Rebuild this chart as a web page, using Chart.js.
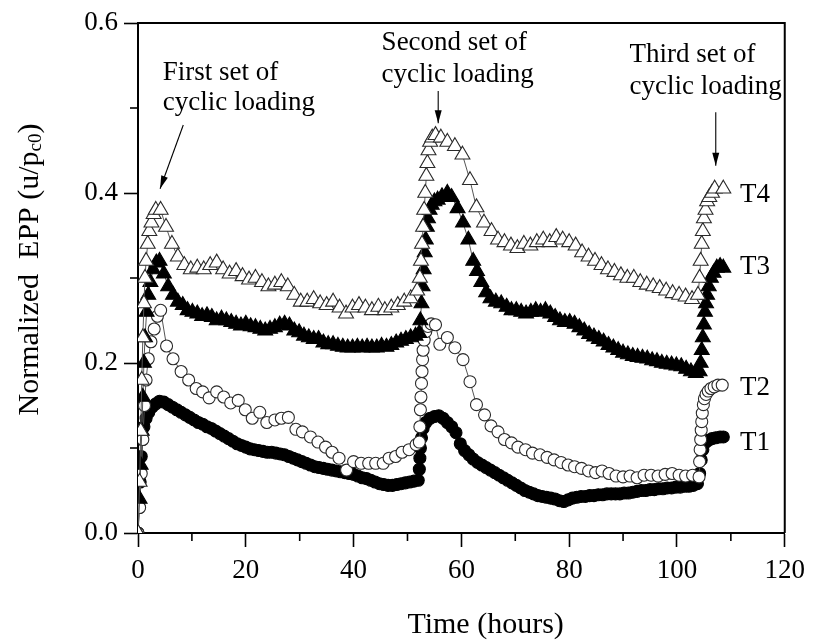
<!DOCTYPE html>
<html>
<head>
<meta charset="utf-8">
<script src="https://cdn.jsdelivr.net/npm/chart.js@4.4.1/dist/chart.umd.min.js"></script>
<style>
  html, body { margin: 0; padding: 0; background: #fff; }
  #wrap { width: 813px; height: 644px; }
</style>
</head>
<body>
<div id="wrap"><canvas id="epp-chart"></canvas></div>
<script>
// EPP data (time in hours, EPP normalised by p'c0)
const t4Time = [
  0.0, 0.3, 0.5, 0.7, 0.9, 1.1, 1.3, 1.5, 1.8, 2.1,
  2.5, 2.9, 3.3, 4.2, 5.2, 6.3, 7.4, 8.6, 9.8, 11.0,
  12.2, 13.4, 14.6, 15.8, 17.0, 18.2, 19.4, 20.6, 21.8, 23.0,
  24.2, 25.4, 26.6, 27.8, 29.0, 30.2, 31.4, 32.6, 33.8, 35.0,
  36.2, 37.4, 38.6, 39.8, 41.0, 42.2, 43.4, 44.6, 45.8, 47.0,
  48.2, 49.4, 50.6, 51.8, 52.3, 52.5, 52.7, 52.9, 53.1, 53.3,
  53.5, 53.7, 53.9, 54.2, 54.6, 55.2, 56.2, 57.4, 58.8, 60.2,
  61.6, 62.8, 64.2, 65.6, 66.8, 68.0, 69.2, 70.4, 71.6, 72.8,
  74.0, 75.2, 76.4, 77.6, 78.8, 80.0, 81.2, 82.4, 83.6, 84.8,
  86.0, 87.2, 88.4, 89.6, 90.8, 92.0, 93.2, 94.4, 95.6, 96.8,
  98.0, 99.2, 100.4, 101.6, 102.8, 103.9, 104.2, 104.4, 104.6, 104.8,
  105.0, 105.3, 105.6, 106.0, 106.5, 107.0, 108.6
];
const t4Epp = [
  0.00, 0.06, 0.12, 0.18, 0.23, 0.27, 0.30, 0.32, 0.34, 0.355,
  0.365, 0.375, 0.38, 0.38, 0.36, 0.34, 0.325, 0.315, 0.31, 0.312,
  0.31, 0.315, 0.318, 0.31, 0.305, 0.308, 0.302, 0.298, 0.30, 0.295,
  0.29, 0.292, 0.295, 0.29, 0.28, 0.272, 0.272, 0.275, 0.27, 0.268,
  0.272, 0.265, 0.258, 0.265, 0.268, 0.265, 0.262, 0.266, 0.262, 0.265,
  0.268, 0.272, 0.276, 0.285, 0.30, 0.32, 0.34, 0.36, 0.38, 0.40,
  0.42, 0.435, 0.45, 0.46, 0.465, 0.468, 0.465, 0.46, 0.455, 0.445,
  0.415, 0.383, 0.365, 0.355, 0.345, 0.342, 0.338, 0.335, 0.34, 0.338,
  0.342, 0.345, 0.342, 0.348, 0.345, 0.342, 0.338, 0.33, 0.325, 0.32,
  0.315, 0.31, 0.307, 0.303, 0.30, 0.30, 0.295, 0.292, 0.29, 0.288,
  0.285, 0.282, 0.28, 0.278, 0.275, 0.28, 0.30, 0.32, 0.34, 0.355,
  0.37, 0.38, 0.39, 0.395, 0.40, 0.405, 0.405
];

const t3Time = [
  0.0, 0.3, 0.5, 0.7, 0.9, 1.1, 1.3, 1.6, 1.9, 2.3,
  2.8, 3.4, 4.0, 4.8, 5.6, 6.5, 7.4, 8.3, 9.2, 10.1,
  11.0, 11.9, 12.8, 13.7, 14.6, 15.5, 16.4, 17.3, 18.2, 19.1,
  20.0, 20.9, 21.8, 22.7, 23.6, 24.5, 25.4, 26.3, 27.2, 28.1,
  29.0, 29.9, 30.8, 31.7, 32.6, 33.5, 34.4, 35.3, 36.2, 37.1,
  38.0, 38.9, 39.8, 40.7, 41.6, 42.5, 43.4, 44.3, 45.2, 46.1,
  47.0, 47.9, 48.8, 49.7, 50.6, 51.5, 52.2, 52.4, 52.6, 52.8,
  53.0, 53.2, 53.4, 53.6, 53.8, 54.1, 54.5, 55.0, 55.6, 56.4,
  57.4, 58.2, 59.3, 60.3, 61.3, 62.2, 62.9, 63.7, 64.6, 65.4,
  66.4, 67.4, 68.4, 69.3, 70.2, 71.1, 72.0, 72.9, 73.8, 74.7,
  75.6, 76.5, 77.4, 78.3, 79.2, 80.1, 81.0, 81.9, 82.8, 83.7,
  84.6, 85.5, 86.4, 87.3, 88.2, 89.1, 90.0, 90.9, 91.8, 92.7,
  93.6, 94.5, 95.4, 96.3, 97.2, 98.1, 99.0, 99.9, 100.8, 101.7,
  102.6, 103.5, 104.2, 104.4, 104.6, 104.8, 105.0, 105.2, 105.4, 105.6,
  105.9, 106.3, 106.8, 107.4, 108.0, 108.6
];
const t3Epp = [
  0.00, 0.04, 0.08, 0.12, 0.16, 0.20, 0.23, 0.26, 0.28, 0.295,
  0.31, 0.318, 0.32, 0.305, 0.29, 0.28, 0.272, 0.268, 0.262, 0.26,
  0.258, 0.255, 0.256, 0.254, 0.25, 0.252, 0.25, 0.248, 0.246, 0.244,
  0.246, 0.243, 0.242, 0.24, 0.238, 0.24, 0.242, 0.245, 0.246, 0.244,
  0.238, 0.236, 0.232, 0.23, 0.228, 0.228, 0.224, 0.222, 0.222, 0.22,
  0.219, 0.218, 0.218, 0.219, 0.218, 0.219, 0.218, 0.218, 0.22, 0.219,
  0.221, 0.224, 0.226, 0.228, 0.23, 0.232, 0.235, 0.25, 0.27, 0.29,
  0.31, 0.33, 0.345, 0.36, 0.37, 0.38, 0.386, 0.39, 0.392, 0.396,
  0.40, 0.395, 0.382, 0.365, 0.345, 0.32, 0.308, 0.295, 0.283, 0.276,
  0.272, 0.27, 0.266, 0.262, 0.262, 0.26, 0.258, 0.26, 0.262, 0.26,
  0.262, 0.258, 0.254, 0.25, 0.248, 0.248, 0.246, 0.242, 0.238, 0.234,
  0.231, 0.228, 0.225, 0.221, 0.218, 0.215, 0.212, 0.21, 0.208, 0.207,
  0.206, 0.205, 0.203, 0.202, 0.20, 0.199, 0.198, 0.197, 0.196, 0.193,
  0.19, 0.188, 0.19, 0.20, 0.215, 0.23, 0.245, 0.26, 0.27, 0.28,
  0.29, 0.30, 0.306, 0.312, 0.314, 0.312
];

const t2Time = [
  0.0, 0.3, 0.6, 0.9, 1.2, 1.5, 1.9, 2.4, 3.0, 3.6,
  4.2, 5.3, 6.5, 8.0, 9.4, 10.8, 12.0, 13.2, 14.6, 15.9,
  17.2, 18.6, 19.9, 21.2, 22.6, 23.9, 25.4, 26.6, 27.9, 29.3,
  30.5, 32.0, 33.4, 34.8, 36.0, 37.3, 38.7, 40.0, 41.4, 42.8,
  44.1, 45.5, 46.6, 47.8, 49.0, 50.3, 51.6, 52.2, 52.3, 52.4,
  52.5, 52.6, 52.7, 52.8, 52.9, 53.1, 53.4, 53.8, 54.4, 55.2,
  56.0, 57.4, 58.8, 60.3, 61.6, 62.8, 64.3, 65.5, 66.8, 68.0,
  69.3, 70.5, 71.9, 73.2, 74.6, 75.9, 77.2, 78.5, 79.8, 81.0,
  82.3, 83.6, 84.9, 86.1, 87.4, 88.7, 90.0, 91.3, 92.6, 93.9,
  95.2, 96.5, 97.8, 99.1, 100.4, 101.6, 102.9, 104.1, 104.2, 104.3,
  104.4, 104.5, 104.6, 104.7, 104.9, 105.1, 105.4, 105.8, 106.3, 106.9,
  107.6, 108.4
];
const t2Epp = [
  0.00, 0.03, 0.07, 0.11, 0.15, 0.18, 0.205, 0.225, 0.24, 0.255,
  0.262, 0.22, 0.205, 0.19, 0.18, 0.17, 0.166, 0.159, 0.166, 0.16,
  0.153, 0.156, 0.145, 0.135, 0.142, 0.13, 0.133, 0.135, 0.136, 0.122,
  0.119, 0.113, 0.107, 0.101, 0.095, 0.088, 0.074, 0.084, 0.082, 0.082,
  0.082, 0.082, 0.088, 0.09, 0.095, 0.098, 0.104, 0.107, 0.125, 0.145,
  0.16, 0.176, 0.19, 0.204, 0.215, 0.227, 0.237, 0.243, 0.246, 0.245,
  0.222, 0.23, 0.218, 0.204, 0.178, 0.151, 0.139, 0.126, 0.119, 0.11,
  0.106, 0.101, 0.098, 0.094, 0.092, 0.089, 0.086, 0.083, 0.08, 0.078,
  0.076, 0.073, 0.071, 0.073, 0.07, 0.067, 0.066, 0.067, 0.065, 0.068,
  0.068, 0.067, 0.069, 0.07, 0.068, 0.067, 0.068, 0.066, 0.084, 0.098,
  0.11, 0.121, 0.131, 0.141, 0.151, 0.158, 0.163, 0.167, 0.17, 0.172,
  0.174, 0.174
];

const t1Time = [
  0.0, 0.2, 0.4, 0.6, 0.8, 1.1, 1.5, 2.0, 2.6, 3.3,
  4.0, 4.8, 5.6, 6.4, 7.2, 8.0, 8.8, 9.6, 10.4, 11.2,
  12.0, 12.8, 13.6, 14.4, 15.2, 16.0, 16.8, 17.6, 18.4, 19.2,
  20.0, 20.8, 21.6, 22.4, 23.2, 24.0, 24.8, 25.6, 26.4, 27.2,
  28.0, 28.8, 29.6, 30.4, 31.2, 32.0, 32.8, 33.6, 34.4, 35.2,
  36.0, 36.8, 37.6, 38.4, 39.2, 40.0, 40.8, 41.6, 42.4, 43.2,
  44.0, 44.8, 45.6, 46.4, 47.2, 48.0, 48.8, 49.6, 50.4, 51.2,
  52.0, 52.2, 52.3, 52.4, 52.6, 52.9, 53.4, 54.2, 55.0, 55.8,
  56.6, 57.4, 58.2, 59.0, 59.8, 60.6, 61.4, 62.2, 63.0, 63.8,
  64.6, 65.4, 66.2, 67.0, 67.8, 68.6, 69.4, 70.2, 71.0, 71.8,
  72.6, 73.4, 74.2, 75.0, 75.8, 76.6, 77.4, 78.2, 79.0, 79.8,
  80.6, 81.4, 82.2, 83.0, 83.8, 84.6, 85.4, 86.2, 87.0, 87.8,
  88.6, 89.4, 90.2, 91.0, 91.8, 92.6, 93.4, 94.2, 95.0, 95.8,
  96.6, 97.4, 98.2, 99.0, 99.8, 100.6, 101.4, 102.2, 103.0, 103.8,
  104.2, 104.5, 104.8, 105.2, 105.8, 106.5, 107.2, 108.0, 108.6
];
const t1Epp = [
  0.00, 0.03, 0.06, 0.09, 0.11, 0.125, 0.135, 0.142, 0.148, 0.152,
  0.155, 0.154, 0.151, 0.148, 0.145, 0.142, 0.139, 0.136, 0.133, 0.13,
  0.128, 0.125, 0.123, 0.12, 0.117, 0.114, 0.111, 0.108, 0.105, 0.103,
  0.101, 0.099, 0.098, 0.097, 0.096, 0.095, 0.095, 0.094, 0.093, 0.092,
  0.09, 0.088, 0.086, 0.084, 0.082, 0.08, 0.078, 0.077, 0.076, 0.075,
  0.074, 0.073, 0.072, 0.071, 0.07, 0.069, 0.067, 0.065, 0.064, 0.062,
  0.06, 0.058, 0.057, 0.056, 0.056, 0.057, 0.058, 0.059, 0.06, 0.061,
  0.062, 0.075, 0.088, 0.10, 0.112, 0.123, 0.13, 0.135, 0.137, 0.138,
  0.135, 0.13, 0.125, 0.118, 0.105, 0.097, 0.092, 0.087, 0.083, 0.08,
  0.077, 0.074, 0.071, 0.068, 0.065, 0.062, 0.059, 0.056, 0.053, 0.05,
  0.048, 0.046, 0.044, 0.043, 0.042, 0.041, 0.04, 0.038, 0.037, 0.039,
  0.041, 0.042, 0.043, 0.043, 0.044, 0.044, 0.045, 0.045, 0.046, 0.046,
  0.046, 0.046, 0.047, 0.047, 0.048, 0.049, 0.05, 0.05, 0.051, 0.051,
  0.052, 0.052, 0.053, 0.053, 0.054, 0.054, 0.055, 0.055, 0.056, 0.058,
  0.07, 0.086, 0.098, 0.106, 0.109, 0.111, 0.112, 0.113, 0.113
];

const seriesNames = ['T4', 'T3', 'T2', 'T1'];
const minorXTicks = [10, 30, 50, 70, 90, 110];
const minorYTicks = [0.1, 0.3, 0.5];
const xTitle = 'Time (hours)';
const yTitleMain = 'Normalized  EPP (u/p';
const yTitleSub = 'c0';
const loadingNotes = [
  ['First set of', 'cyclic loading'],
  ['Second set of', 'cyclic loading'],
  ['Third set of', 'cyclic loading']
];

const SERIF = '"Liberation Serif", "Times New Roman", serif';

function pairs(times, values) {
  return times.map((t, i) => ({ x: t, y: values[i] }));
}

function makeSet(label, times, values, style, filled, radius) {
  return {
    label,
    data: pairs(times, values),
    showLine: true,
    borderColor: '#555',
    borderWidth: 1,
    pointStyle: style,
    pointRadius: radius,
    pointBackgroundColor: filled ? '#000' : '#fff',
    pointBorderColor: filled ? '#000' : '#2a2a2a',
    pointBorderWidth: 1.1
  };
}

// frame, minor ticks, titles, notes, series labels
const decorPlugin = {
  id: 'decor',
  afterDraw(chart) {
    const { ctx, chartArea: a, scales: { x, y } } = chart;
    ctx.save();
    ctx.strokeStyle = '#000';
    ctx.lineWidth = 2;
    ctx.beginPath();
    ctx.moveTo(a.left, a.top);
    ctx.lineTo(a.right, a.top);
    ctx.lineTo(a.right, a.bottom);
    ctx.stroke();

    ctx.lineWidth = 1.6;
    minorXTicks.forEach(v => {
      const px = x.getPixelForValue(v);
      ctx.beginPath();
      ctx.moveTo(px, a.bottom);
      ctx.lineTo(px, a.bottom + 8);
      ctx.stroke();
    });
    minorYTicks.forEach(v => {
      const py = y.getPixelForValue(v);
      ctx.beginPath();
      ctx.moveTo(a.left, py);
      ctx.lineTo(a.left - 8, py);
      ctx.stroke();
    });

    ctx.fillStyle = '#000';
    // x title
    ctx.font = '30px ' + SERIF;
    ctx.textAlign = 'center';
    ctx.textBaseline = 'middle';
    ctx.fillText(xTitle, x.getPixelForValue(64.5), 625);

    // y title with subscript
    ctx.save();
    ctx.translate(30, y.getPixelForValue(0.31));
    ctx.rotate(-Math.PI / 2);
    ctx.textAlign = 'left';
    ctx.font = '30px ' + SERIF;
    const w1 = ctx.measureText(yTitleMain).width;
    const w3 = ctx.measureText(')').width;
    ctx.font = '19px ' + SERIF;
    const w2 = ctx.measureText(yTitleSub).width;
    const start = -(w1 + w2 + w3) / 2;
    ctx.font = '30px ' + SERIF;
    ctx.fillText(yTitleMain, start, 0);
    ctx.fillText(')', start + w1 + w2, 0);
    ctx.font = '19px ' + SERIF;
    ctx.fillText(yTitleSub, start + w1, 6);
    ctx.restore();

    // loading notes
    ctx.font = '27px ' + SERIF;
    ctx.textAlign = 'left';
    ctx.textBaseline = 'alphabetic';
    const noteAt = [[4.6, 0.533, 0.498], [45.2, 0.568, 0.531], [91.2, 0.554, 0.517]];
    loadingNotes.forEach((lines, i) => {
      const [nx, y1, y2] = noteAt[i];
      ctx.fillText(lines[0], x.getPixelForValue(nx), y.getPixelForValue(y1));
      ctx.fillText(lines[1], x.getPixelForValue(nx), y.getPixelForValue(y2));
    });

    // arrows
    const arrows = [[8.4, 0.48, 4.1, 0.405], [55.7, 0.52, 55.7, 0.482], [107.2, 0.495, 107.2, 0.432]];
    ctx.lineWidth = 1.1;
    arrows.forEach(([x0, y0, x1, y1]) => {
      const sx = x.getPixelForValue(x0), sy = y.getPixelForValue(y0);
      const ex = x.getPixelForValue(x1), ey = y.getPixelForValue(y1);
      const ang = Math.atan2(ey - sy, ex - sx);
      ctx.beginPath();
      ctx.moveTo(sx, sy);
      ctx.lineTo(ex, ey);
      ctx.stroke();
      ctx.beginPath();
      ctx.moveTo(ex, ey);
      ctx.lineTo(ex - 13 * Math.cos(ang) + 3.5 * Math.sin(ang), ey - 13 * Math.sin(ang) - 3.5 * Math.cos(ang));
      ctx.lineTo(ex - 13 * Math.cos(ang) - 3.5 * Math.sin(ang), ey - 13 * Math.sin(ang) + 3.5 * Math.cos(ang));
      ctx.closePath();
      ctx.fill();
    });

    // series labels at the right end
    ctx.textBaseline = 'middle';
    const labelY = [0.398, 0.313, 0.171, 0.106];
    seriesNames.forEach((name, i) => {
      ctx.fillText(name, x.getPixelForValue(111.7), y.getPixelForValue(labelY[i]));
    });
    ctx.restore();
  }
};

new Chart(document.getElementById('epp-chart'), {
  type: 'scatter',
  data: {
    datasets: [
      makeSet('T4', t4Time, t4Epp, 'triangle', false, 8.6),
      makeSet('T3', t3Time, t3Epp, 'triangle', true, 8.6),
      makeSet('T2', t2Time, t2Epp, 'circle', false, 6),
      makeSet('T1', t1Time, t1Epp, 'circle', true, 6)
    ]
  },
  options: {
    responsive: true,
    maintainAspectRatio: false,
    animation: false,
    layout: { padding: { top: 23, right: 25, left: 0, bottom: 0 } },
    plugins: {
      legend: { display: false },
      tooltip: { enabled: false }
    },
    scales: {
      x: {
        type: 'linear',
        min: 0,
        max: 120,
        afterFit: scale => { scale.height = 111; },
        border: { display: true, color: '#000', width: 2 },
        grid: { drawOnChartArea: false, tickLength: 14, tickColor: '#000', tickWidth: 1.6 },
        ticks: {
          stepSize: 20,
          color: '#000',
          padding: 8,
          maxRotation: 0,
          font: { family: SERIF, size: 27 }
        }
      },
      y: {
        type: 'linear',
        min: 0,
        max: 0.6,
        afterFit: scale => { scale.width = 138; },
        border: { display: true, color: '#000', width: 2 },
        grid: { drawOnChartArea: false, tickLength: 14, tickColor: '#000', tickWidth: 1.6 },
        ticks: {
          stepSize: 0.2,
          color: '#000',
          padding: 6,
          font: { family: SERIF, size: 27 },
          callback: v => v.toFixed(1)
        }
      }
    }
  },
  plugins: [decorPlugin]
});
</script>
</body>
</html>
